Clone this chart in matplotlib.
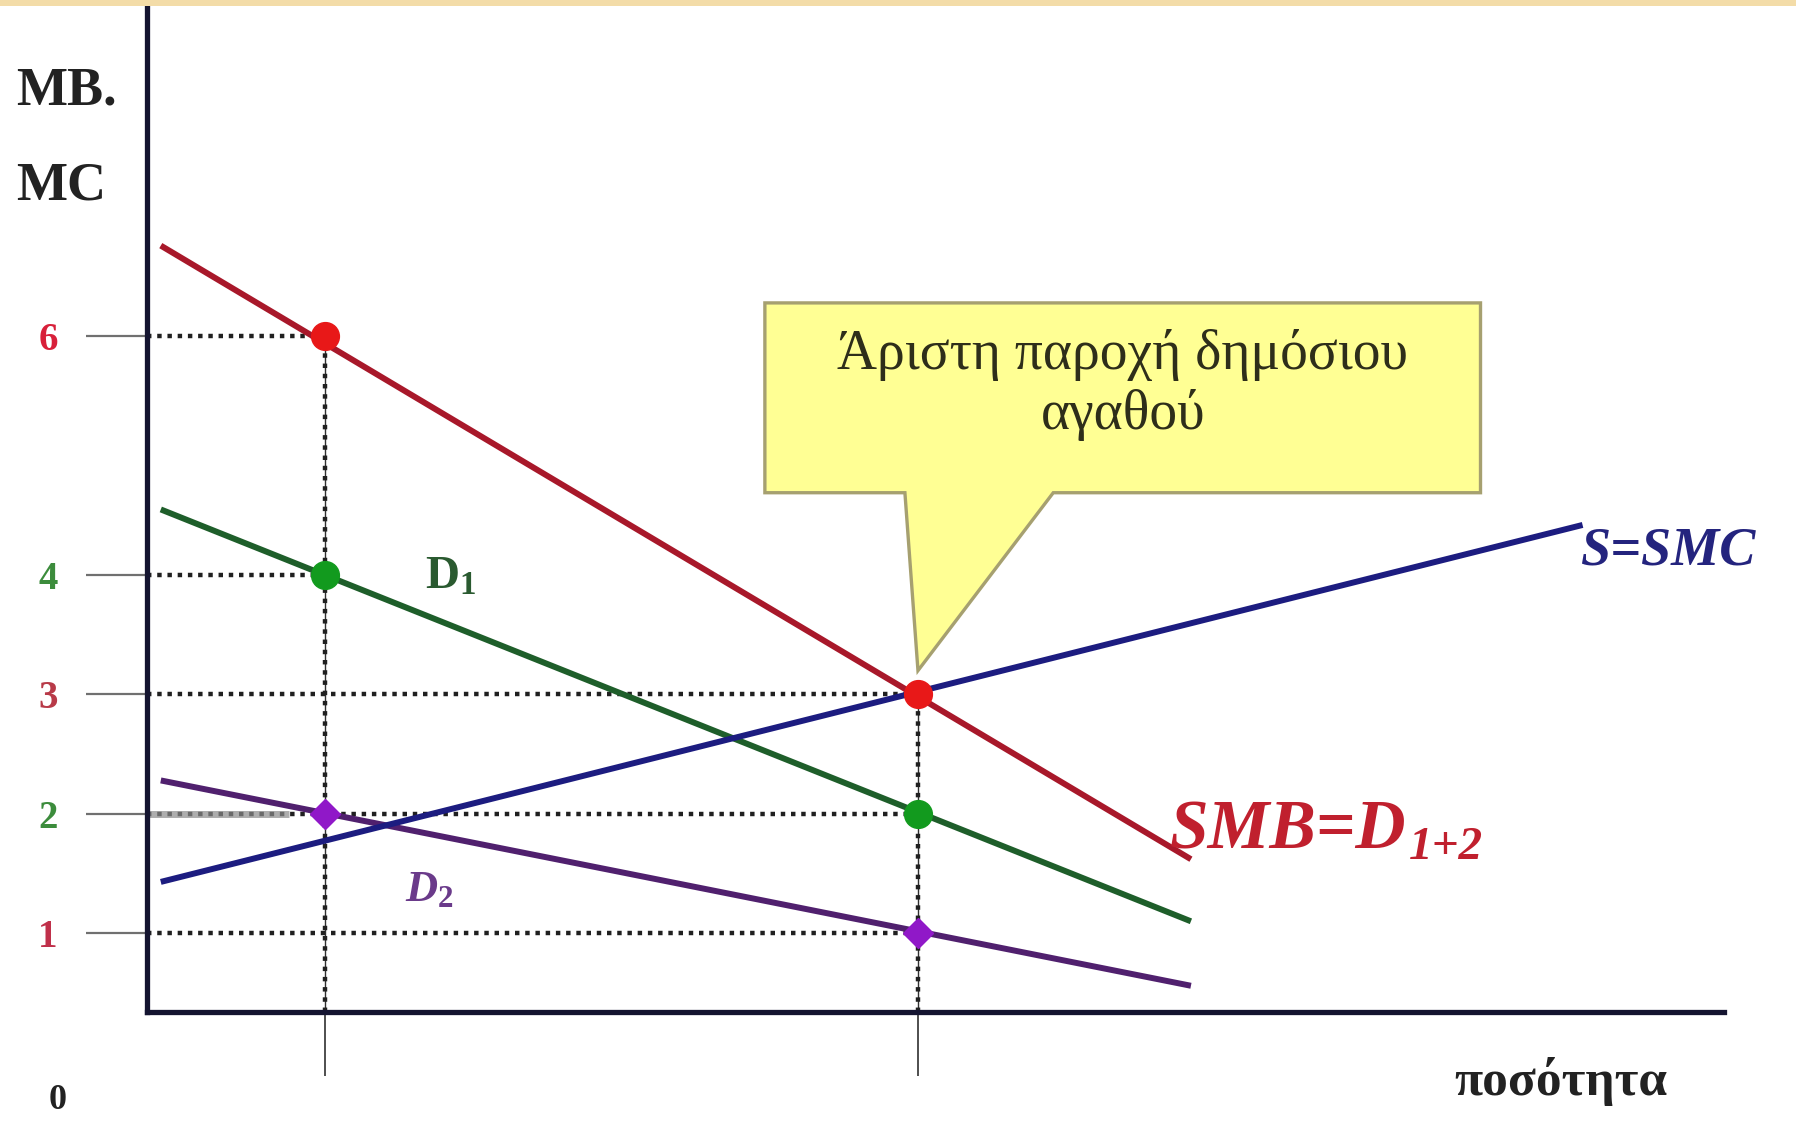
import numpy as np
import matplotlib
matplotlib.use("Agg")
import matplotlib.pyplot as plt
from matplotlib.patches import Polygon, Rectangle

plt.rcParams['font.family'] = ['Liberation Serif', 'DejaVu Serif']
plt.rcParams['mathtext.fontset'] = 'custom'
plt.rcParams['mathtext.rm'] = 'Liberation Serif:bold'
plt.rcParams['mathtext.it'] = 'Liberation Serif:italic:bold'
plt.rcParams['mathtext.bf'] = 'Liberation Serif:bold'

# curve end points (quantity, price)
q_ends = [0.12, 8.8]
smb_p = [6.76, 1.62]     # SMB = D1+2
d1_p = [4.55, 1.10]      # D1
d2_p = [2.28, 0.56]      # D2
s_q = [0.12, 12.1]
s_p = [1.43, 4.42]       # S = SMC

# marked quantities and the points on the demand curves
q_marks = [1.5, 6.5]
smb_pts = [6, 3]
d1_pts = [4, 2]
d2_pts = [2, 1]

ytick_vals = [6, 4, 3, 2, 1]
ytick_cols = ['#d8203a', '#3c8c3c', '#b83a48', '#3c8c3c', '#c0304a']

red_line, red_pt = '#a8182a', '#e81818'
grn_line, grn_pt = '#1e5e2a', '#129a1e'
pur_line, pur_pt = '#50206e', '#9018c8'
blue_line = '#1c1c80'
axis_col = '#141430'

fig = plt.figure(figsize=(17.96, 11.30), dpi=100, facecolor='white')
ax = fig.add_axes([0.0816, 0.1044, 0.8782, 0.8906])
ax.set_xlim(0, 13.29)
ax.set_ylim(0.34, 8.77)
ax.set_facecolor('white')

for side in ['top', 'right']:
    ax.spines[side].set_visible(False)
for side in ['left', 'bottom']:
    ax.spines[side].set_color(axis_col)
    ax.spines[side].set_linewidth(3.8)
    ax.spines[side].set_zorder(6)

# y ticks: long grey ticks reaching left, coloured numbers
ax.set_yticks(ytick_vals)
ax.set_yticklabels([str(v) for v in ytick_vals], fontsize=28, fontweight='bold')
for lab, c in zip(ax.get_yticklabels(), ytick_cols):
    lab.set_color(c)
ax.tick_params(axis='y', length=44, width=1.6, color='#707070', pad=20)
# x ticks: thin lines under the axis, no labels
ax.set_xticks(q_marks)
ax.set_xticklabels([])
ax.tick_params(axis='x', length=46, width=1.2, color='#303030')

# guide lines
dots = (0, (1, 1.3))
ax.vlines(q_marks, 0.34, [smb_pts[0], smb_pts[1]], color='#303030', lw=1.0, zorder=2)
ax.vlines(q_marks, 0.34, [smb_pts[0], smb_pts[1]], color='#202020', lw=3.2, ls=dots, zorder=2)
ax.hlines([smb_pts[0], d1_pts[0]], 0, q_marks[0], color='#202020', lw=3.2, ls=dots, zorder=2)
ax.hlines([smb_pts[1], d1_pts[1], d2_pts[1]], 0, q_marks[1], color='#202020', lw=3.2, ls=dots, zorder=2)
ax.hlines(d2_pts[0], 0, q_marks[0] - 0.3, color='#8a8a8a', lw=5, alpha=0.7, zorder=2)

# curves
ax.plot(q_ends, smb_p, color=red_line, lw=4.3, zorder=3, solid_capstyle='butt')
ax.plot(q_ends, d1_p, color=grn_line, lw=4.3, zorder=3, solid_capstyle='butt')
ax.plot(q_ends, d2_p, color=pur_line, lw=4.3, zorder=3, solid_capstyle='butt')
ax.plot(s_q, s_p, color=blue_line, lw=4.3, zorder=3, solid_capstyle='butt')

# points
ax.plot(q_marks, smb_pts, 'o', color=red_pt, ms=20, mec=red_pt, zorder=5)
ax.plot(q_marks, d1_pts, 'o', color=grn_pt, ms=20, mec=grn_pt, zorder=5)
ax.plot(q_marks, d2_pts, 'D', color=pur_pt, ms=15, mec=pur_pt, zorder=5)

# callout box pointing at the optimum
box_l, box_r, box_b, box_t = 5.21, 11.24, 4.69, 6.28
ptr_l, ptr_r = 6.39, 7.64
tip = (q_marks[1], smb_pts[1] + 0.2)
callout = Polygon([(box_l, box_b), (box_l, box_t), (box_r, box_t), (box_r, box_b),
                   (ptr_r, box_b), tip, (ptr_l, box_b)],
                  closed=True, fc='#ffff94', ec='#a6a070', lw=2.4, zorder=4)
ax.add_patch(callout)
ax.text((box_l + box_r) / 2, 5.59, 'Άριστη παροχή δημόσιου\nαγαθού', ha='center', va='center',
        fontsize=40, color='#2e2e1a', linespacing=1.2, zorder=6)

# labels
ax.text(2.35, 3.98, r'$\mathrm{D}_1$', fontsize=34, color='#2a5a30', zorder=6, va='center')
ax.text(2.18, 1.36, r'$D_2$', fontsize=32, color='#6a3a8a', zorder=6, va='center')
smb_txt = ax.text(8.62, 1.85, 'SMB=D', fontsize=50, fontweight='bold', fontstyle='italic',
                  color='#c0202e', zorder=6, va='center')
ax.annotate('1+2', xy=(1, 0), xycoords=smb_txt, xytext=(2, -4), textcoords='offset points',
            fontsize=34, fontweight='bold', fontstyle='italic', color='#c0202e',
            ha='left', va='bottom', zorder=6)
ax.text(12.08, 4.2, 'S=SMC', fontsize=39, fontweight='bold', fontstyle='italic',
        color='#24247e', zorder=6, va='center')

fig.text(0.009, 0.919, 'MB.', fontsize=39, fontweight='bold', color='#222222', va='center')
fig.text(0.009, 0.835, 'MC', fontsize=39, fontweight='bold', color='#222222', va='center')
fig.text(0.032, 0.026, '0', fontsize=26, fontweight='bold', color='#222222', va='center', ha='center')
fig.text(0.81, 0.043, 'ποσότητα', fontsize=37, fontweight='bold', color='#222222', va='center')

# beige strip along the top edge
fig.patches.append(Rectangle((0, 0.9947), 1, 0.0053, transform=fig.transFigure,
                             fc='#f3dca8', ec='none'))

fig.savefig('out.png', dpi=100, facecolor='white')
